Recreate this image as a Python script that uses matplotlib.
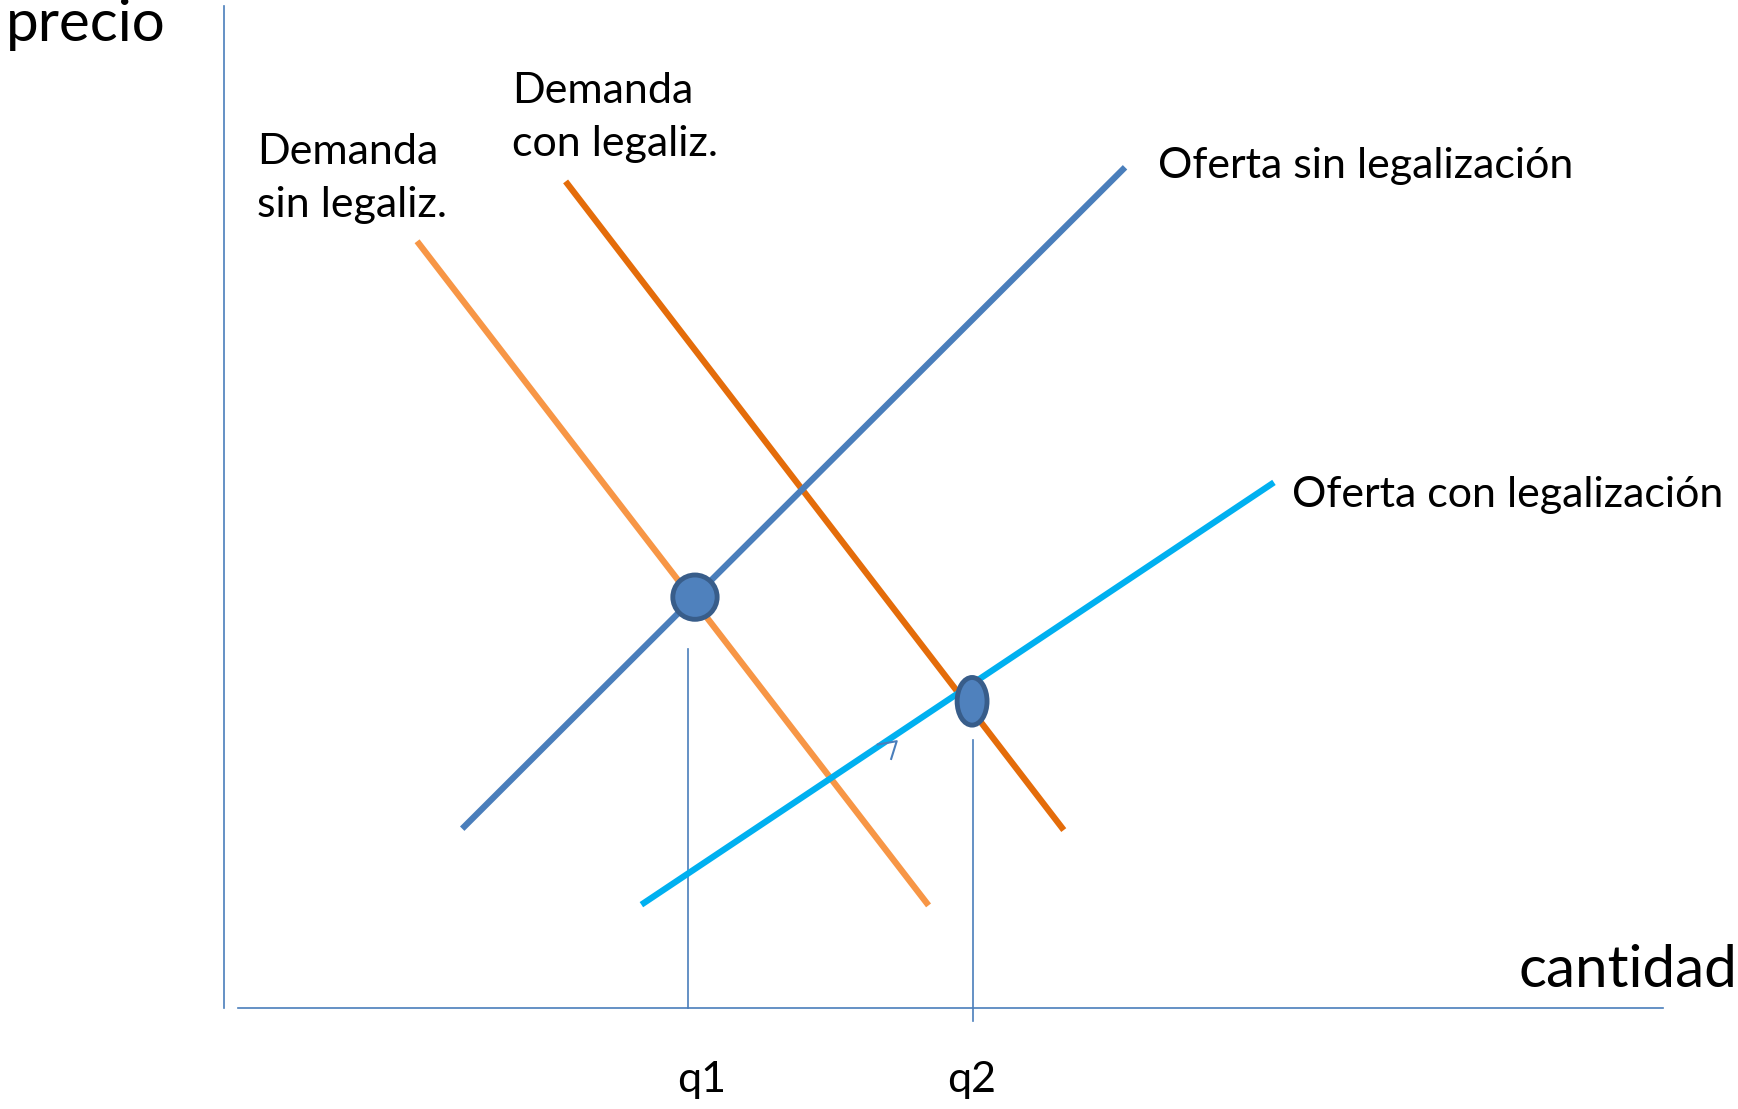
import matplotlib
matplotlib.use('Agg')
import matplotlib.pyplot as plt
from matplotlib.patches import Ellipse

plt.rcParams['font.family'] = ['Lato', 'DejaVu Sans']

# Curve endpoints (quantity, price) in diagram units, origin at axis crossing.
dem_sin = ([176, 634], [690, 95])
dem_con = ([310, 756], [744, 163])
of_sin = ([217, 811], [164, 757])
of_con = ([379, 945], [95, 473])

# Equilibria and reference quantities.
eq1 = (425, 371)
eq2 = (675, 277)
q1 = 419
q2 = 676
q1_top = 324
q2_top = 242

fig = plt.figure(figsize=(17.38, 11.09), dpi=100)
ax = fig.add_axes([0, 0, 1, 1])
ax.set_xlim(-202, 1568 - 202)
ax.set_ylim(910 - 1001, 910)
ax.axis('off')

axis_col = '#4A7EBB'
# Axes of the diagram.
ax.plot([0, 0], [0, 905], color=axis_col, lw=1.2)
ax.plot([13, 1298], [0, 0], color=axis_col, lw=1.2)

# Quantity guides.
ax.plot([q1, q1], [0, q1_top], color=axis_col, lw=1.2)
ax.plot([q2, q2], [-12, q2_top], color=axis_col, lw=1.2)

# Curves.
ax.plot(*dem_sin, color='#F79646', lw=4.5)
ax.plot(*dem_con, color='#E46C0A', lw=4.5)
ax.plot(*of_sin, color='#4A7EBB', lw=4.5)
ax.plot(*of_con, color='#00B0F0', lw=4.5)

# Stray tick mark.
ax.plot([590, 607, 602], [238, 241, 225], color=axis_col, lw=1.5)

# Equilibrium markers.
ax.add_patch(Ellipse(eq1, 40, 40, facecolor='#4F81BD', edgecolor='#385D8A', lw=3.5, zorder=5))
ax.add_patch(Ellipse(eq2, 27, 43, facecolor='#4F81BD', edgecolor='#385D8A', lw=3.5, zorder=5))

fs = 31
ax.text(-197, 888, 'precio', fontsize=42, va='center', ha='left')
ax.text(1168, 34, 'cantidad', fontsize=42, va='center', ha='left')
ax.text(30, 749, 'Demanda\nsin legaliz.', fontsize=fs, va='center', ha='left', linespacing=1.5)
ax.text(260, 804, 'Demanda\ncon legaliz.', fontsize=fs, va='center', ha='left', linespacing=1.5)
ax.text(843, 760, 'Oferta sin legalización', fontsize=fs, va='center', ha='left')
ax.text(964, 463, 'Oferta con legalización', fontsize=fs, va='center', ha='left')
ax.text(431, -65, 'q1', fontsize=fs, va='center', ha='center')
ax.text(675, -65, 'q2', fontsize=fs, va='center', ha='center')

fig.savefig('out.png', dpi=100)
